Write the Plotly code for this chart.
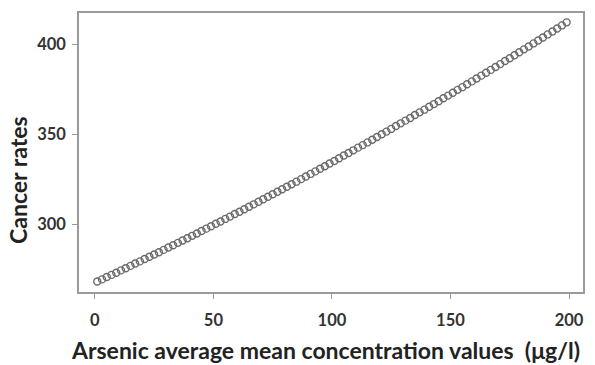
import plotly.graph_objects as go

x_values = list(range(1, 200, 2))
cancer_rates = [
    268.2, 269.4, 270.7, 271.9, 273.1, 274.4, 275.6, 276.9, 278.2, 279.4,
    280.7, 282.0, 283.2, 284.5, 285.8, 287.1, 288.4, 289.7, 291.0, 292.3,
    293.6, 294.9, 296.3, 297.6, 298.9, 300.3, 301.6, 303.0, 304.3, 305.7,
    307.0, 308.4, 309.8, 311.1, 312.5, 313.9, 315.3, 316.7, 318.1, 319.5,
    320.9, 322.3, 323.7, 325.1, 326.6, 328.0, 329.4, 330.9, 332.3, 333.8,
    335.2, 336.7, 338.2, 339.6, 341.1, 342.6, 344.0, 345.5, 347.0, 348.5,
    350.0, 351.5, 353.0, 354.6, 356.1, 357.6, 359.1, 360.7, 362.2, 363.7,
    365.3, 366.8, 368.4, 370.0, 371.5, 373.1, 374.7, 376.2, 377.8, 379.4,
    381.0, 382.6, 384.2, 385.8, 387.4, 389.0, 390.7, 392.3, 393.9, 395.6,
    397.2, 398.8, 400.5, 402.1, 403.8, 405.5, 407.1, 408.8, 410.5, 412.2,
]
x_ticks = [0, 50, 100, 150, 200]
y_ticks = [300, 350, 400]
x_title = "Arsenic average mean concentration values  (μg/l)"
y_title = "Cancer rates"

fig = go.Figure()
fig.add_trace(go.Scatter(
    x=x_values, y=cancer_rates, mode="markers",
    marker=dict(symbol="circle-open", size=7, color="#6a6a6a", line=dict(width=1.4, color="#6a6a6a")),
    showlegend=False, hoverinfo="skip",
))

axis_common = dict(
    showgrid=False, zeroline=False, showline=True, linecolor="#9a9a9a", linewidth=1.5,
    mirror=True, ticks="outside", ticklen=5, tickwidth=1.3, tickcolor="#9a9a9a",
    tickfont=dict(family="Lato", size=16.5, color="#333333", weight="bold"),
)
fig.update_xaxes(range=[-6.7, 205.9], tickvals=x_ticks, ticklabelstandoff=7, **axis_common)
fig.update_yaxes(range=[262.4, 417.4], tickvals=y_ticks, ticklabelstandoff=3, **axis_common)

fig.add_annotation(
    text=x_title, xref="paper", yref="paper", x=0.49, y=-0.208,
    showarrow=False, xanchor="center", yanchor="middle",
    font=dict(family="Lato", size=23, color="#222222", weight="bold"),
)
fig.add_annotation(
    text=y_title, xref="paper", yref="paper", x=-0.12, y=0.40,
    showarrow=False, xanchor="center", yanchor="middle", textangle=-90,
    font=dict(family="Lato", size=23, color="#222222", weight="bold"),
)

fig.update_layout(
    width=595, height=365,
    margin=dict(l=79, r=10, t=13, b=73),
    paper_bgcolor="white", plot_bgcolor="white",
)
fig.write_html("out.html")
